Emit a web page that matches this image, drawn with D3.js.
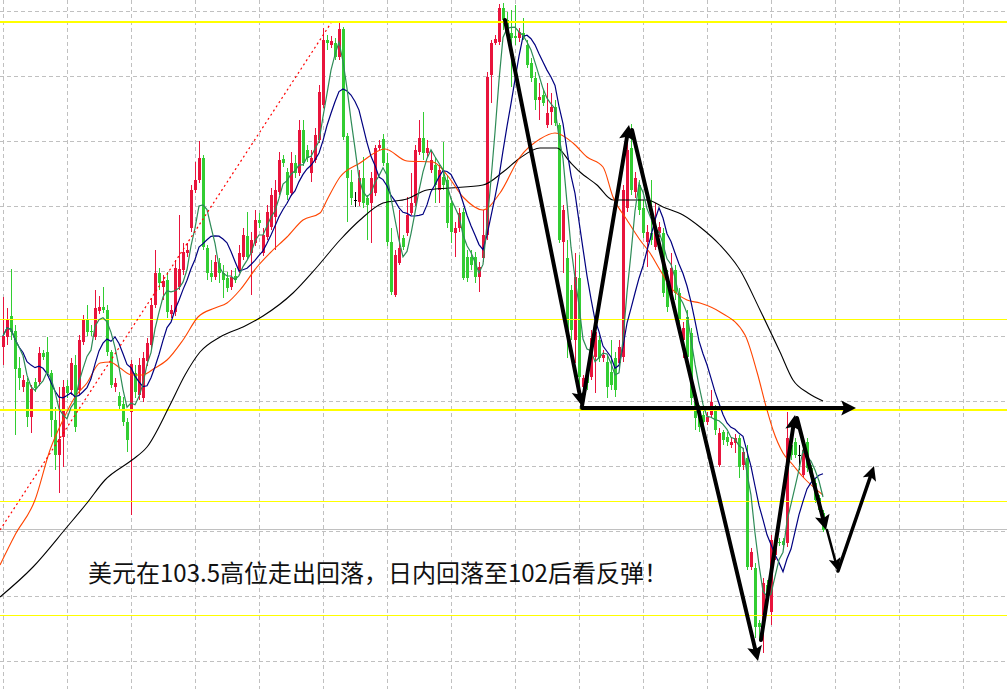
<!DOCTYPE html>
<html>
<head>
<meta charset="utf-8">
<script src="https://cdn.jsdelivr.net/npm/d3@7"></script>
<style>
  html, body { margin: 0; padding: 0; background: #fff; overflow: hidden; }
  svg { display: block; }
</style>
</head>
<body>
<svg id="chart" width="1007" height="689"></svg>
<script>
// ---- Daily-bar data: open / high / low / close ----
const open = [
102.559,102.589,102.652,102.607,102.496,102.439,102.454,102.349,102.454,102.454,
102.541,102.544,102.481,102.340,102.235,102.289,102.442,102.430,102.505,102.430,
102.574,102.640,102.607,102.589,102.667,102.679,102.670,102.544,102.439,102.412,
102.388,102.334,102.364,102.481,102.415,102.406,102.517,102.565,102.685,102.781,
102.739,102.760,102.658,102.664,102.739,102.790,102.841,102.916,103.030,103.060,
103.126,102.856,102.781,102.769,102.811,102.781,102.766,102.739,102.772,102.790,
102.829,102.892,102.841,102.871,102.940,102.841,102.889,102.919,102.949,103.024,
103.123,103.084,103.021,103.111,103.081,103.210,103.150,103.081,103.120,103.180,
103.285,103.480,103.465,103.471,103.429,103.513,103.192,103.054,103.000,102.994,
103.066,103.006,102.991,103.021,103.156,103.183,103.111,102.874,102.715,102.811,
102.886,102.901,102.961,102.991,103.144,103.186,103.141,103.090,103.105,103.030,
103.069,103.060,102.991,102.901,102.916,102.964,102.829,102.829,102.829,102.769,
102.826,102.895,103.375,103.471,103.474,103.576,103.540,103.501,103.492,103.486,
103.501,103.465,103.411,103.366,103.300,103.315,103.225,103.264,103.279,103.225,
102.874,102.826,102.730,102.580,102.766,102.439,102.475,102.469,102.529,102.580,
102.526,102.514,102.484,102.526,102.511,102.529,102.976,103.156,103.024,103.045,
102.976,102.874,102.901,102.859,102.901,102.901,102.751,102.721,102.790,102.721,
102.580,102.649,102.601,102.394,102.370,102.355,102.334,102.355,102.370,102.205,
102.304,102.289,102.265,102.271,102.286,102.205,102.226,101.899,101.896,101.731,
101.731,101.845,101.764,101.935,101.974,101.977,101.971,102.265,102.274,102.235,
102.175,102.274,102.196,102.151,102.106,102.061];

const high = [
102.709,102.676,102.793,102.625,102.529,102.475,102.466,102.445,102.466,102.559,
102.550,102.589,102.490,102.379,102.439,102.460,102.460,102.526,102.535,102.595,
102.655,102.685,102.625,102.730,102.712,102.739,102.685,102.550,102.466,102.424,
102.409,102.346,102.520,102.505,102.526,102.544,102.586,102.706,102.850,102.796,
102.775,102.784,102.685,102.820,102.955,102.871,102.871,103.045,103.114,103.177,
103.135,102.865,102.820,102.835,102.826,102.805,102.784,102.790,102.796,102.865,
102.916,102.964,102.904,102.970,102.961,102.916,102.985,103.036,103.060,103.144,
103.135,103.096,103.144,103.135,103.240,103.240,103.165,103.150,103.216,103.345,
103.516,103.495,103.492,103.486,103.531,103.519,103.201,103.090,103.024,103.090,
103.129,103.015,103.084,103.165,103.180,103.198,103.141,102.916,102.850,102.970,
102.895,103.009,103.081,103.165,103.240,103.264,103.180,103.150,103.126,103.105,
103.174,103.075,103.006,102.934,102.976,102.976,102.850,102.850,102.844,102.814,
102.970,103.384,103.480,103.495,103.588,103.591,103.564,103.570,103.585,103.516,
103.546,103.480,103.426,103.384,103.351,103.330,103.351,103.321,103.300,103.231,
102.985,102.880,102.745,102.841,102.835,102.475,102.505,102.610,102.625,102.595,
102.550,102.535,102.580,102.544,102.580,103.045,103.180,103.228,103.084,103.060,
103.000,102.925,103.060,102.991,102.934,102.916,102.790,102.841,102.805,102.736,
102.634,102.670,102.616,102.415,102.385,102.370,102.364,102.430,102.385,102.316,
102.310,102.304,102.286,102.298,102.295,102.256,102.265,101.956,101.911,101.740,
101.866,101.860,101.995,101.995,101.986,101.986,102.364,102.280,102.286,102.265,
102.265,102.286,102.205,102.166,102.115,102.070];

const low = [
102.505,102.565,102.580,102.295,102.430,102.424,102.319,102.301,102.424,102.442,
102.520,102.472,102.289,102.190,102.121,102.199,102.406,102.415,102.304,102.415,
102.565,102.592,102.592,102.580,102.658,102.661,102.532,102.436,102.424,102.370,
102.322,102.244,102.055,102.406,102.400,102.394,102.502,102.550,102.676,102.730,
102.700,102.646,102.646,102.652,102.730,102.775,102.829,102.904,103.021,103.051,
102.850,102.760,102.754,102.760,102.751,102.706,102.724,102.730,102.751,102.781,
102.820,102.820,102.715,102.862,102.916,102.832,102.880,102.910,102.850,103.015,
103.099,103.000,103.012,103.066,103.072,103.102,103.114,103.054,103.111,103.171,
103.276,103.450,103.456,103.420,103.420,103.180,102.934,102.985,102.979,102.982,
102.976,102.880,102.871,103.012,103.150,103.102,102.862,102.715,102.709,102.805,
102.850,102.892,102.955,102.982,103.135,103.120,103.126,103.081,102.991,102.991,
103.030,102.916,102.871,102.829,102.904,102.760,102.754,102.790,102.751,102.724,
102.814,102.880,103.291,103.465,103.465,103.510,103.480,103.339,103.465,103.474,
103.480,103.396,103.354,103.270,103.240,103.282,103.216,103.225,103.222,102.871,
102.781,102.526,102.580,102.511,102.421,102.406,102.430,102.460,102.421,102.514,
102.514,102.406,102.430,102.409,102.490,102.514,102.964,103.015,103.006,102.955,
102.886,102.799,102.865,102.850,102.889,102.709,102.664,102.712,102.700,102.610,
102.526,102.514,102.385,102.310,102.304,102.310,102.325,102.346,102.295,102.199,
102.265,102.262,102.256,102.241,102.166,102.190,101.890,101.890,101.686,101.680,
101.641,101.800,101.725,101.920,101.962,101.956,101.959,102.220,102.226,102.190,
102.166,102.184,102.160,102.091,102.064,102.004];

const close = [
102.592,102.640,102.604,102.493,102.466,102.460,102.349,102.433,102.436,102.541,
102.529,102.481,102.340,102.235,102.283,102.439,102.421,102.511,102.319,102.580,
102.640,102.604,102.604,102.676,102.679,102.670,102.544,102.445,102.451,102.382,
102.334,102.280,102.508,102.424,102.505,102.526,102.571,102.685,102.781,102.751,
102.757,102.664,102.670,102.796,102.793,102.844,102.850,103.030,103.060,103.126,
102.859,102.781,102.769,102.814,102.781,102.760,102.736,102.769,102.760,102.841,
102.895,102.829,102.880,102.940,102.931,102.895,102.964,103.015,103.030,103.120,
103.111,103.015,103.111,103.081,103.210,103.111,103.126,103.126,103.195,103.324,
103.480,103.471,103.477,103.429,103.513,103.189,103.066,103.006,103.000,103.066,
102.991,102.985,103.066,103.156,103.165,103.111,102.874,102.724,102.835,102.856,
102.859,102.955,102.991,103.150,103.186,103.141,103.156,103.120,103.045,103.090,
103.045,102.931,102.904,102.916,102.961,102.766,102.766,102.805,102.769,102.799,
102.895,103.369,103.471,103.483,103.576,103.540,103.504,103.486,103.486,103.504,
103.489,103.405,103.366,103.300,103.309,103.291,103.261,103.279,103.231,102.880,
102.970,102.601,102.610,102.769,102.469,102.466,102.451,102.586,102.604,102.526,
102.535,102.439,102.445,102.430,102.559,103.030,103.150,103.030,103.066,102.970,
102.901,102.904,102.880,102.919,102.919,102.721,102.679,102.796,102.721,102.640,
102.616,102.529,102.406,102.346,102.319,102.334,102.349,102.394,102.310,102.301,
102.280,102.274,102.274,102.286,102.199,102.244,101.899,101.944,101.719,101.719,
101.851,101.821,101.980,101.980,101.971,101.965,102.286,102.235,102.235,102.235,
102.250,102.196,102.169,102.100,102.070,102.010];

// ---- Slower averages (bar index, value) ----
const midAvgIdx = [-0.75,3,8,11.75,15,18,21,24.25,26.75,29.25,32.25,34.75,38,41,45,48.75,53,56,59.25,63.5,
  66.75,71,75,79.25,81,84.25,89.25,95.5,101,107.5,111,115,120,124.25,129.25,134.25,138,142.5,146,150,
  152.5,156,159.25,161.75,164.25,167.5,171,174.25,179.25,185.5,188.5,191,192.5,195,197.5,200,205];
const midAvg = [101.905,101.995,102.100,102.250,102.340,102.409,102.451,102.511,102.514,102.496,102.475,102.475,102.496,102.520,102.580,102.649,102.676,102.691,102.730,102.799,
  102.841,102.889,102.940,102.961,103.000,103.069,103.111,103.153,103.117,103.114,103.075,103.009,102.970,103.021,103.129,103.183,103.201,103.171,103.129,103.099,
  103.009,102.940,102.880,102.841,102.790,102.730,102.700,102.691,102.664,102.595,102.484,102.370,102.310,102.241,102.205,102.169,102.115];

const longAvgIdx = [-0.75,7.5,16,21,25.5,32.25,36,41.75,45.5,49.25,54.25,60.5,65,72.5,78.5,84.25,89.25,95,101,106,
  111.75,120,125,129.25,134.25,138.5,141.75,144.25,148.5,152.5,156.75,161,165,170,174.25,179.25,184.25,189.25,194.25,197.5,
  201.25,205];
const longAvg = [101.809,101.899,102.019,102.091,102.160,102.220,102.259,102.385,102.475,102.544,102.589,102.622,102.652,102.721,102.799,102.880,102.940,102.991,103.003,103.030,
  103.036,103.045,103.084,103.126,103.156,103.156,103.114,103.084,103.045,103.000,103.000,103.000,102.979,102.955,102.919,102.865,102.790,102.670,102.544,102.460,
  102.421,102.397];

// ---- Horizontal levels ----
const keyLevels = [103.534, 102.370, 102.643, 102.097, 101.755];
const keyLevelWeight = [2, 2, 1, 1, 1];
const lastPrice = 102.010;

// ---- Trend line and hand-drawn arrows (bar index, price) ----
const trendFrom = [-0.75, 102.010];
const trendTo = [82, 103.531];
const arrowFrom = [[125.5,103.540],[144.75,102.382],[157.25,103.210],[189.5,101.680],[198.5,102.346],[206,102.010],[208.75,101.887],[144.75,102.376]];
const arrowTo   = [[144.75,102.382],[156.5,103.225],[188.75,101.617],[198,102.355],[205.75,102.010],[208.75,101.887],[217.75,102.202],[213.25,102.376]];
const arrowWeight = [4, 4, 4, 4, 4, 2.5, 3.5, 4];

const caption = "美元在103.5高位走出回落，日内回落至102后看反弹！";

// ---- Drawing ----
const W = 1007, H = 689;
const svg = d3.select("#chart");
const x = d3.scaleLinear().domain([-0.75, 251]).range([0, W]);
const y = d3.scaleLinear().domain([103.6, 101.533]).range([0, H]);

svg.append("rect").attr("width", W).attr("height", H).attr("fill", "#fff");

// dashed grid
const grid = svg.append("g").attr("stroke", "#c0c0c0").attr("stroke-width", 1)
  .attr("stroke-dasharray", "4,3").attr("shape-rendering", "crispEdges");
grid.selectAll("line.v").data(d3.range(0, 241, 16)).join("line").attr("class", "v")
  .attr("x1", d => Math.round(x(d)) + 0.5).attr("x2", d => Math.round(x(d)) + 0.5)
  .attr("y1", 0).attr("y2", H);
grid.selectAll("line.h").data(d3.range(0, 11).map(k => 103.567 - 0.195 * k)).join("line").attr("class", "h")
  .attr("y1", d => Math.round(y(d)) + 0.5).attr("y2", d => Math.round(y(d)) + 0.5)
  .attr("x1", 0).attr("x2", W);

// last price line
svg.append("line").attr("x1", 0).attr("x2", W)
  .attr("y1", Math.round(y(lastPrice)) - 0.5).attr("y2", Math.round(y(lastPrice)) - 0.5)
  .attr("stroke", "#c0c0c0").attr("stroke-width", 1).attr("shape-rendering", "crispEdges");

// candles
const bars = open.map((o, i) => ({ i, o, h: high[i], l: low[i], c: close[i] }));
const barColor = d => d.c > d.o ? "#e8143c" : (d.c < d.o ? "#32cd32" : "#000");
const cg = svg.append("g").attr("shape-rendering", "crispEdges");
cg.selectAll("line").data(bars).join("line")
  .attr("x1", d => Math.round(x(d.i)) + 0.5).attr("x2", d => Math.round(x(d.i)) + 0.5)
  .attr("y1", d => y(d.h)).attr("y2", d => y(d.l))
  .attr("stroke", barColor).attr("stroke-width", 1);
cg.selectAll("rect").data(bars).join("rect")
  .attr("x", d => Math.round(x(d.i)) - 1).attr("width", 3)
  .attr("y", d => y(Math.max(d.o, d.c)))
  .attr("height", d => Math.max(1, y(Math.min(d.o, d.c)) - y(Math.max(d.o, d.c))))
  .attr("fill", barColor);

// horizontal key levels (thin ones snapped to a single pixel row)
svg.append("g").attr("shape-rendering", "crispEdges").selectAll("line").data(keyLevels).join("line")
  .attr("x1", 0).attr("x2", W)
  .attr("y1", (d, k) => keyLevelWeight[k] === 1 ? Math.round(y(d)) + 0.5 : Math.round(y(d)))
  .attr("y2", (d, k) => keyLevelWeight[k] === 1 ? Math.round(y(d)) + 0.5 : Math.round(y(d)))
  .attr("stroke", "#ffff00").attr("stroke-width", (d, k) => keyLevelWeight[k]);

// moving averages
const movingAvg = n => close.map((_, i) => ({ i, p: d3.mean(close.slice(Math.max(0, i - n + 1), i + 1)) }));
const lineGen = d3.line().x(d => x(d.i)).y(d => y(d.p));
const smoothGen = d3.line().x(d => x(d.i)).y(d => y(d.p)).curve(d3.curveMonotoneX);

svg.append("path").datum(longAvgIdx.map((i, k) => ({ i, p: longAvg[k] })))
  .attr("d", smoothGen).attr("fill", "none").attr("stroke", "#000").attr("stroke-width", 1.1);
svg.append("path").datum(midAvgIdx.map((i, k) => ({ i, p: midAvg[k] })))
  .attr("d", smoothGen).attr("fill", "none").attr("stroke", "#ff4500").attr("stroke-width", 1.1);
svg.append("path").datum(movingAvg(10))
  .attr("d", lineGen).attr("fill", "none").attr("stroke", "#000080").attr("stroke-width", 1.2);
svg.append("path").datum(movingAvg(5))
  .attr("d", lineGen).attr("fill", "none").attr("stroke", "#2e8b57").attr("stroke-width", 1.2);

// dotted trend line
svg.append("line")
  .attr("x1", x(trendFrom[0])).attr("y1", y(trendFrom[1]))
  .attr("x2", x(trendTo[0])).attr("y2", y(trendTo[1]))
  .attr("stroke", "#ff0000").attr("stroke-width", 1.2).attr("stroke-dasharray", "2,3");

// arrows
const ag = svg.append("g");
arrowFrom.forEach((f, k) => {
  const x0 = x(f[0]), y0 = y(f[1]), x1 = x(arrowTo[k][0]), y1 = y(arrowTo[k][1]);
  const w = arrowWeight[k];
  const len = Math.hypot(x1 - x0, y1 - y0);
  const ux = (x1 - x0) / len, uy = (y1 - y0) / len;
  const headL = 10 + w * 1.2, headW = 3.5 + w;
  const bx = x1 - ux * headL, by = y1 - uy * headL;
  ag.append("line").attr("x1", x0).attr("y1", y0)
    .attr("x2", x1 - ux * headL * 0.6).attr("y2", y1 - uy * headL * 0.6)
    .attr("stroke", "#000").attr("stroke-width", w).attr("stroke-linecap", "round");
  ag.append("path")
    .attr("d", `M${x1},${y1}L${bx - uy * headW},${by + ux * headW}L${bx + ux * 3},${by + uy * 3}L${bx + uy * headW},${by - ux * headW}Z`)
    .attr("fill", "#000");
});

// caption
svg.append("text").attr("x", 88).attr("y", 582)
  .attr("font-family", "'Noto Sans CJK SC', 'Noto Sans', sans-serif")
  .attr("font-size", 24).attr("fill", "#111").text(caption);
</script>
</body>
</html>
